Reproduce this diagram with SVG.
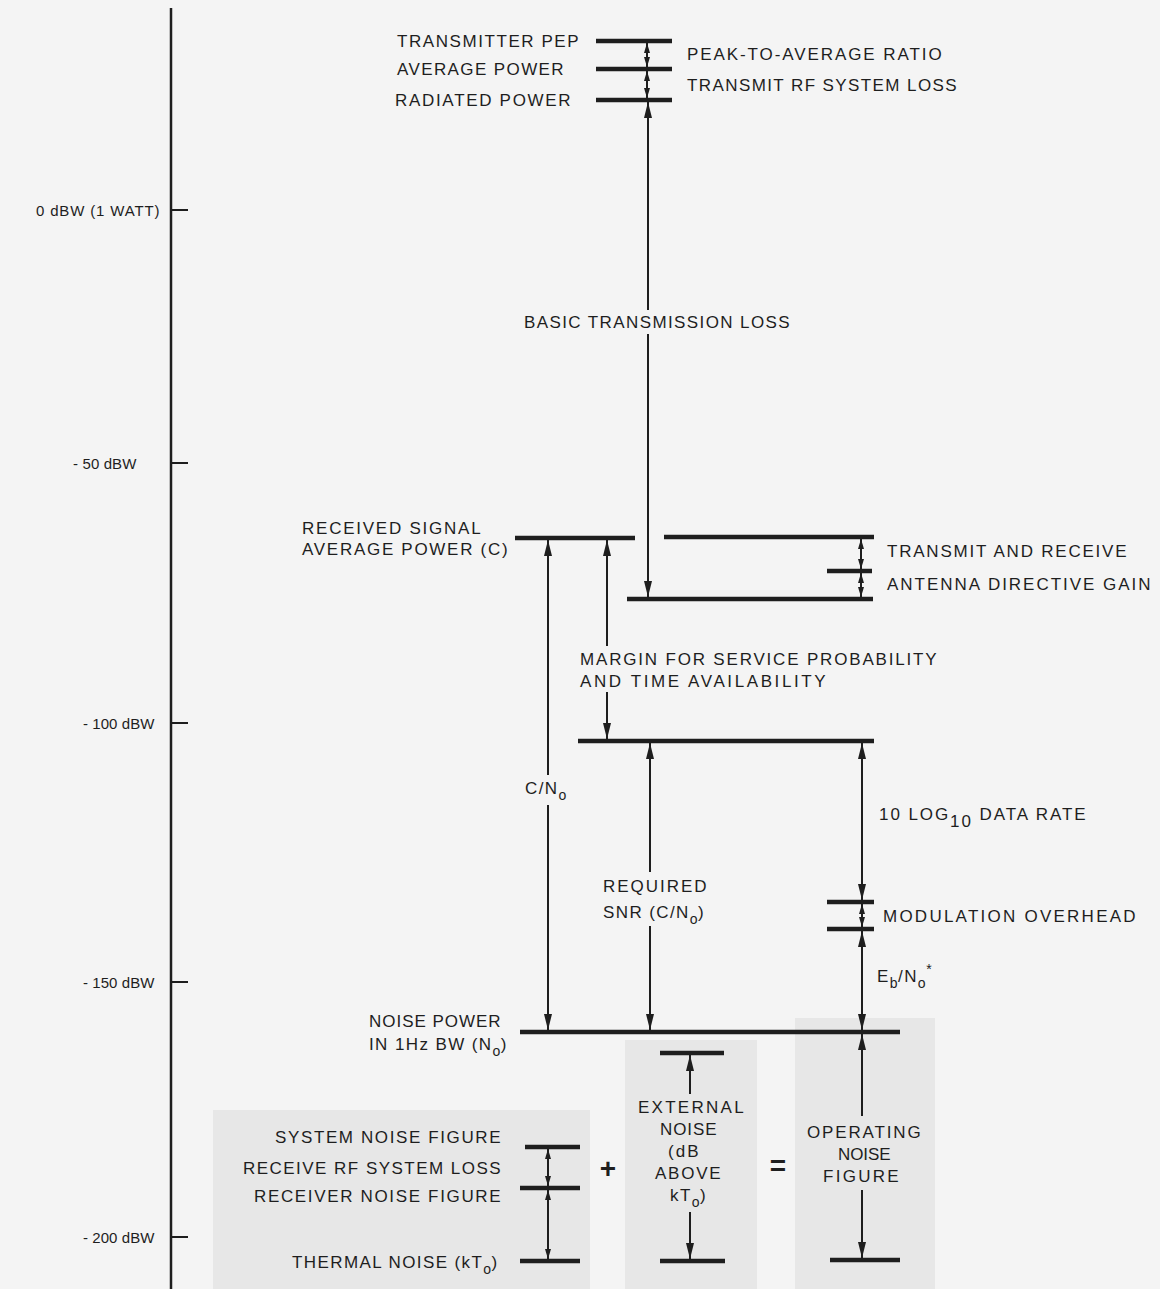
<svg xmlns="http://www.w3.org/2000/svg" width="1160" height="1289" viewBox="0 0 1160 1289">
<style>
text{font-family:"Liberation Sans",Arial,sans-serif;font-size:17px;fill:#1e1e1e;letter-spacing:1.4px}
.ax{font-size:15px;letter-spacing:0.6px}
.bar{stroke:#1e1e1e;stroke-width:4.5;fill:none}
.ln{stroke:#1e1e1e;stroke-width:2;fill:none}
.ar{stroke:#1e1e1e;stroke-width:2;fill:none;marker-end:url(#ah);marker-start:url(#ah)}
.ae{stroke:#1e1e1e;stroke-width:2;fill:none;marker-end:url(#ah)}
.as{stroke:#1e1e1e;stroke-width:2;fill:none;marker-start:url(#ah)}
.sm{stroke:#1e1e1e;stroke-width:2;fill:none;marker-end:url(#sh);marker-start:url(#sh)}
.pn{fill:#e7e7e7}
.bg{fill:#f4f4f4}
.sub{font-size:14px;letter-spacing:0.5px}
.op{font-size:28px;font-weight:bold;letter-spacing:0}
</style>
<defs>
<marker id="ah" viewBox="0 0 16 8" refX="16" refY="4" markerWidth="16" markerHeight="8" markerUnits="userSpaceOnUse" orient="auto-start-reverse"><path d="M0,0 L16,4 L0,8 z" fill="#1e1e1e"/></marker>
<marker id="sh" viewBox="0 0 10 6" refX="10" refY="3" markerWidth="10" markerHeight="6" markerUnits="userSpaceOnUse" orient="auto-start-reverse"><path d="M0,0 L10,3 L0,6 z" fill="#1e1e1e"/></marker>
</defs>
<rect width="1160" height="1289" fill="#f4f4f4"/>

<g id="axis">
<line x1="171" y1="8" x2="171" y2="1289" stroke="#1e1e1e" stroke-width="2.5"/>
<line x1="171" y1="210" x2="188" y2="210" class="ln"/>
<line x1="171" y1="463" x2="188" y2="463" class="ln"/>
<line x1="171" y1="723" x2="188" y2="723" class="ln"/>
<line x1="171" y1="982" x2="188" y2="982" class="ln"/>
<line x1="171" y1="1237" x2="188" y2="1237" class="ln"/>
<text class="ax" x="36" y="216" textLength="124">0 dBW (1 WATT)</text>
<text class="ax" x="73" y="469" textLength="64">- 50 dBW</text>
<text class="ax" x="83" y="729" textLength="72">- 100 dBW</text>
<text class="ax" x="83" y="988" textLength="72">- 150 dBW</text>
<text class="ax" x="83" y="1243" textLength="72">- 200 dBW</text>
</g>

<g id="panels">
<rect class="pn" x="213" y="1110" width="377" height="179"/>
<rect class="pn" x="625" y="1040" width="132" height="249"/>
<rect class="pn" x="795" y="1018" width="140" height="271"/>
</g>

<g id="transmitter">
<line class="bar" x1="596" y1="41" x2="672" y2="41"/>
<line class="bar" x1="596" y1="69" x2="672" y2="69"/>
<line class="bar" x1="596" y1="100" x2="672" y2="100"/>
<text x="397" y="47" textLength="183">TRANSMITTER PEP</text>
<text x="397" y="75" textLength="168">AVERAGE POWER</text>
<text x="395" y="106" textLength="177">RADIATED POWER</text>
<text x="687" y="60" textLength="256">PEAK-TO-AVERAGE RATIO</text>
<text x="687" y="91" textLength="271">TRANSMIT RF SYSTEM LOSS</text>
</g>

<g id="received">
<line class="bar" x1="515" y1="538" x2="635" y2="538"/>
<text x="302" y="534" textLength="180">RECEIVED SIGNAL</text>
<text x="302" y="555" textLength="207">AVERAGE POWER (C)</text>
</g>

<g id="antenna">
<line class="bar" x1="664" y1="537" x2="874" y2="537"/>
<line class="bar" x1="827" y1="571" x2="872" y2="571"/>
<line class="bar" x1="627" y1="599" x2="873" y2="599"/>
<text x="887" y="557" textLength="241">TRANSMIT AND RECEIVE</text>
<text x="887" y="590" textLength="265">ANTENNA DIRECTIVE GAIN</text>
</g>

<g id="required">
<line class="bar" x1="578" y1="741" x2="874" y2="741"/>
</g>

<g id="modulation">
<line class="bar" x1="827" y1="902" x2="874" y2="902"/>
<line class="bar" x1="827" y1="929" x2="874" y2="929"/>
<text x="883" y="922" textLength="254">MODULATION OVERHEAD</text>
</g>

<g id="noise">
<line class="bar" x1="520" y1="1032" x2="900" y2="1032"/>
<text x="369" y="1027" textLength="133">NOISE POWER</text>
<text x="369" y="1050">IN 1Hz BW (N<tspan class="sub" dy="6">o</tspan><tspan dy="-6">)</tspan></text>
</g>

<g id="system-noise">
<line class="bar" x1="525" y1="1147" x2="580" y2="1147"/>
<line class="bar" x1="520" y1="1188" x2="580" y2="1188"/>
<line class="bar" x1="520" y1="1261" x2="580" y2="1261"/>
<text x="275" y="1143" textLength="227">SYSTEM NOISE FIGURE</text>
<text x="243" y="1174" textLength="259">RECEIVE RF SYSTEM LOSS</text>
<text x="254" y="1202" textLength="248">RECEIVER NOISE FIGURE</text>
<text x="292" y="1268">THERMAL NOISE (kT<tspan class="sub" dy="6">o</tspan><tspan dy="-6">)</tspan></text>
</g>

<g id="plus"><text class="op" x="608" y="1178" text-anchor="middle">+</text></g>

<g id="external-noise">
<line class="bar" x1="660" y1="1053" x2="724" y2="1053"/>
<line class="bar" x1="660" y1="1261" x2="725" y2="1261"/>
<text x="638" y="1113" textLength="107">EXTERNAL</text>
<text x="660" y="1135" textLength="58">NOISE</text>
<text x="668" y="1157" textLength="32">(dB</text>
<text x="655" y="1179" textLength="67">ABOVE</text>
<text x="670" y="1201">kT<tspan class="sub" dy="6">o</tspan><tspan dy="-6">)</tspan></text>
</g>

<g id="equals"><text class="op" x="778" y="1175" text-anchor="middle">=</text></g>

<g id="operating-noise">
<line class="bar" x1="830" y1="1260" x2="900" y2="1260"/>
<text x="807" y="1138" textLength="115">OPERATING</text>
<text x="838" y="1160" textLength="54">NOISE</text>
<text x="823" y="1182" textLength="77">FIGURE</text>
</g>

<g id="connectors">
<line class="sm" x1="647" y1="43" x2="647" y2="67"/>
<line class="sm" x1="647" y1="71" x2="647" y2="98"/>
<line class="ar" x1="648" y1="102" x2="648" y2="597"/>
<rect class="bg" x="519" y="310" width="278" height="24"/>
<text x="524" y="328" textLength="267">BASIC TRANSMISSION LOSS</text>

<line class="sm" x1="861" y1="539" x2="861" y2="569"/>
<line class="sm" x1="861" y1="573" x2="861" y2="597"/>

<line class="ar" x1="548" y1="540" x2="548" y2="1030"/>
<rect class="bg" x="520" y="775" width="54" height="30"/>
<text x="525" y="794">C/N<tspan class="sub" dy="6">o</tspan></text>

<line class="ar" x1="607" y1="540" x2="607" y2="739"/>
<rect class="bg" x="574" y="646" width="370" height="46"/>
<text x="580" y="665" textLength="358">MARGIN FOR SERVICE PROBABILITY</text>
<text x="580" y="687" textLength="247">AND TIME AVAILABILITY</text>

<line class="ar" x1="650" y1="743" x2="650" y2="1030"/>
<rect class="bg" x="598" y="872" width="116" height="54"/>
<text x="603" y="892" textLength="105">REQUIRED</text>
<text x="603" y="918">SNR (C/N<tspan class="sub" dy="6">o</tspan><tspan dy="-6">)</tspan></text>

<line class="ar" x1="862" y1="743" x2="862" y2="900"/>
<text x="879" y="820" textLength="208">10 LOG<tspan font-size="17" dy="7">10</tspan><tspan dy="-7"> DATA RATE</tspan></text>
<line class="sm" x1="862" y1="904" x2="862" y2="927"/>
<line class="ar" x1="862" y1="931" x2="862" y2="1030"/>
<text x="877" y="982">E<tspan class="sub" dy="6">b</tspan><tspan dy="-6">/N</tspan><tspan class="sub" dy="6">o</tspan><tspan class="sub" dy="-14">*</tspan></text>

<line class="sm" x1="548" y1="1149" x2="548" y2="1186"/>
<line class="sm" x1="548" y1="1190" x2="548" y2="1259"/>

<line class="as" x1="690" y1="1055" x2="690" y2="1094"/>
<line class="ae" x1="690" y1="1212" x2="690" y2="1259"/>

<line class="as" x1="862" y1="1034" x2="862" y2="1116"/>
<line class="ae" x1="862" y1="1190" x2="862" y2="1258"/>
</g>
</svg>
